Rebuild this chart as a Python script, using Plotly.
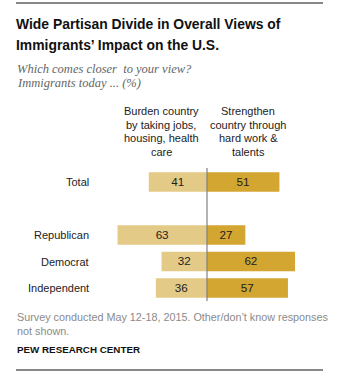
import plotly.graph_objects as go

categories = ["Total", "Republican", "Democrat", "Independent"]
positions = [0, 2, 3, 4]
burden = [41, 63, 32, 36]
strengthen = [51, 27, 62, 57]

W, H = 349, 378
CX, SCALE = 207, 1.42
Y0, STEP = 182, 26.5

def px(x):
    return x / W

def py(y):
    return 1 - y / H

x_range = [-CX / SCALE, (W - CX) / SCALE]
y_range = [(H - Y0) / STEP, -Y0 / STEP]

LIGHT = "#E3CA86"
DARK = "#D3A531"
SANS = "Liberation Sans, Arial, sans-serif"

fig = go.Figure()
fig.add_trace(go.Bar(
    y=positions, x=[-v for v in burden], base=0, orientation="h",
    marker=dict(color=LIGHT, line=dict(width=0)), width=0.74,
    text=[str(v) for v in burden], textposition="inside", insidetextanchor="middle",
    textangle=0,
    textfont=dict(family=SANS, size=12, color="#222222"), hoverinfo="skip",
))
fig.add_trace(go.Bar(
    y=positions, x=strengthen, orientation="h",
    marker=dict(color=DARK, line=dict(width=0)), width=0.74,
    text=[str(v) for v in strengthen], textposition="inside", insidetextanchor="middle",
    textangle=0,
    textfont=dict(family=SANS, size=12, color="#222222"), hoverinfo="skip",
))

ann = []
def add(text, x, y, size, color="#222222", family=SANS, xanchor="left", bold=False, italic=False):
    if bold:
        text = "<b>" + text + "</b>"
    if italic:
        text = "<i>" + text + "</i>"
    ann.append(dict(text=text, x=px(x), y=py(y), xref="paper", yref="paper",
                    xanchor=xanchor, yanchor="middle", showarrow=False,
                    font=dict(size=size, color=color, family=family)))

add("Wide Partisan Divide in Overall Views of", 14, 24, 13.9, "#111111", bold=True)
add("Immigrants’ Impact on the U.S.", 14, 45, 13.9, "#111111", bold=True)
add("Which comes closer  to your view?", 15, 69, 12.5, "#666666",
    family="Liberation Serif, Georgia, serif", italic=True)
add("Immigrants today ... (%)", 15, 83, 12.5, "#666666",
    family="Liberation Serif, Georgia, serif", italic=True)

left_head = ["Burden country", "by taking jobs,", "housing, health", "care"]
right_head = ["Strengthen", "country through", "hard work &", "talents"]
head_y = [111, 125, 138, 152]
for t, yy in zip(left_head, head_y):
    add(t, 161, yy, 11, xanchor="center")
for t, yy in zip(right_head, head_y):
    add(t, 248, yy, 11, xanchor="center")

for c, p in zip(categories, positions):
    add(c, 91, Y0 + STEP * p, 11, xanchor="right")

add("Survey conducted May 12-18, 2015. Other/don’t know responses", 15, 317, 10.8, "#8a8a8a")
add("not shown.", 15, 331, 10.8, "#8a8a8a")
add("PEW RESEARCH CENTER", 15, 349, 9.8, "#111111", bold=True)

shapes = [
    dict(type="line", xref="paper", yref="paper", x0=px(16), x1=px(323), y0=py(3), y1=py(3),
         line=dict(color="#111111", width=1.2)),
    dict(type="line", xref="paper", yref="paper", x0=px(16), x1=px(323), y0=py(370), y1=py(370),
         line=dict(color="#111111", width=1.2)),
    dict(type="line", xref="x", yref="paper", x0=0, x1=0, y0=py(168), y1=py(301),
         line=dict(color="#808080", width=1.2)),
]

fig.update_layout(
    width=W, height=H, margin=dict(l=0, r=0, t=0, b=0),
    paper_bgcolor="white", plot_bgcolor="white",
    barmode="overlay", showlegend=False,
    xaxis=dict(range=x_range, visible=False, fixedrange=True),
    yaxis=dict(range=y_range, visible=False, fixedrange=True),
    annotations=ann, shapes=shapes,
    uniformtext=dict(minsize=8, mode="show"),
)
fig.write_html("out.html", config={"displayModeBar": False})
